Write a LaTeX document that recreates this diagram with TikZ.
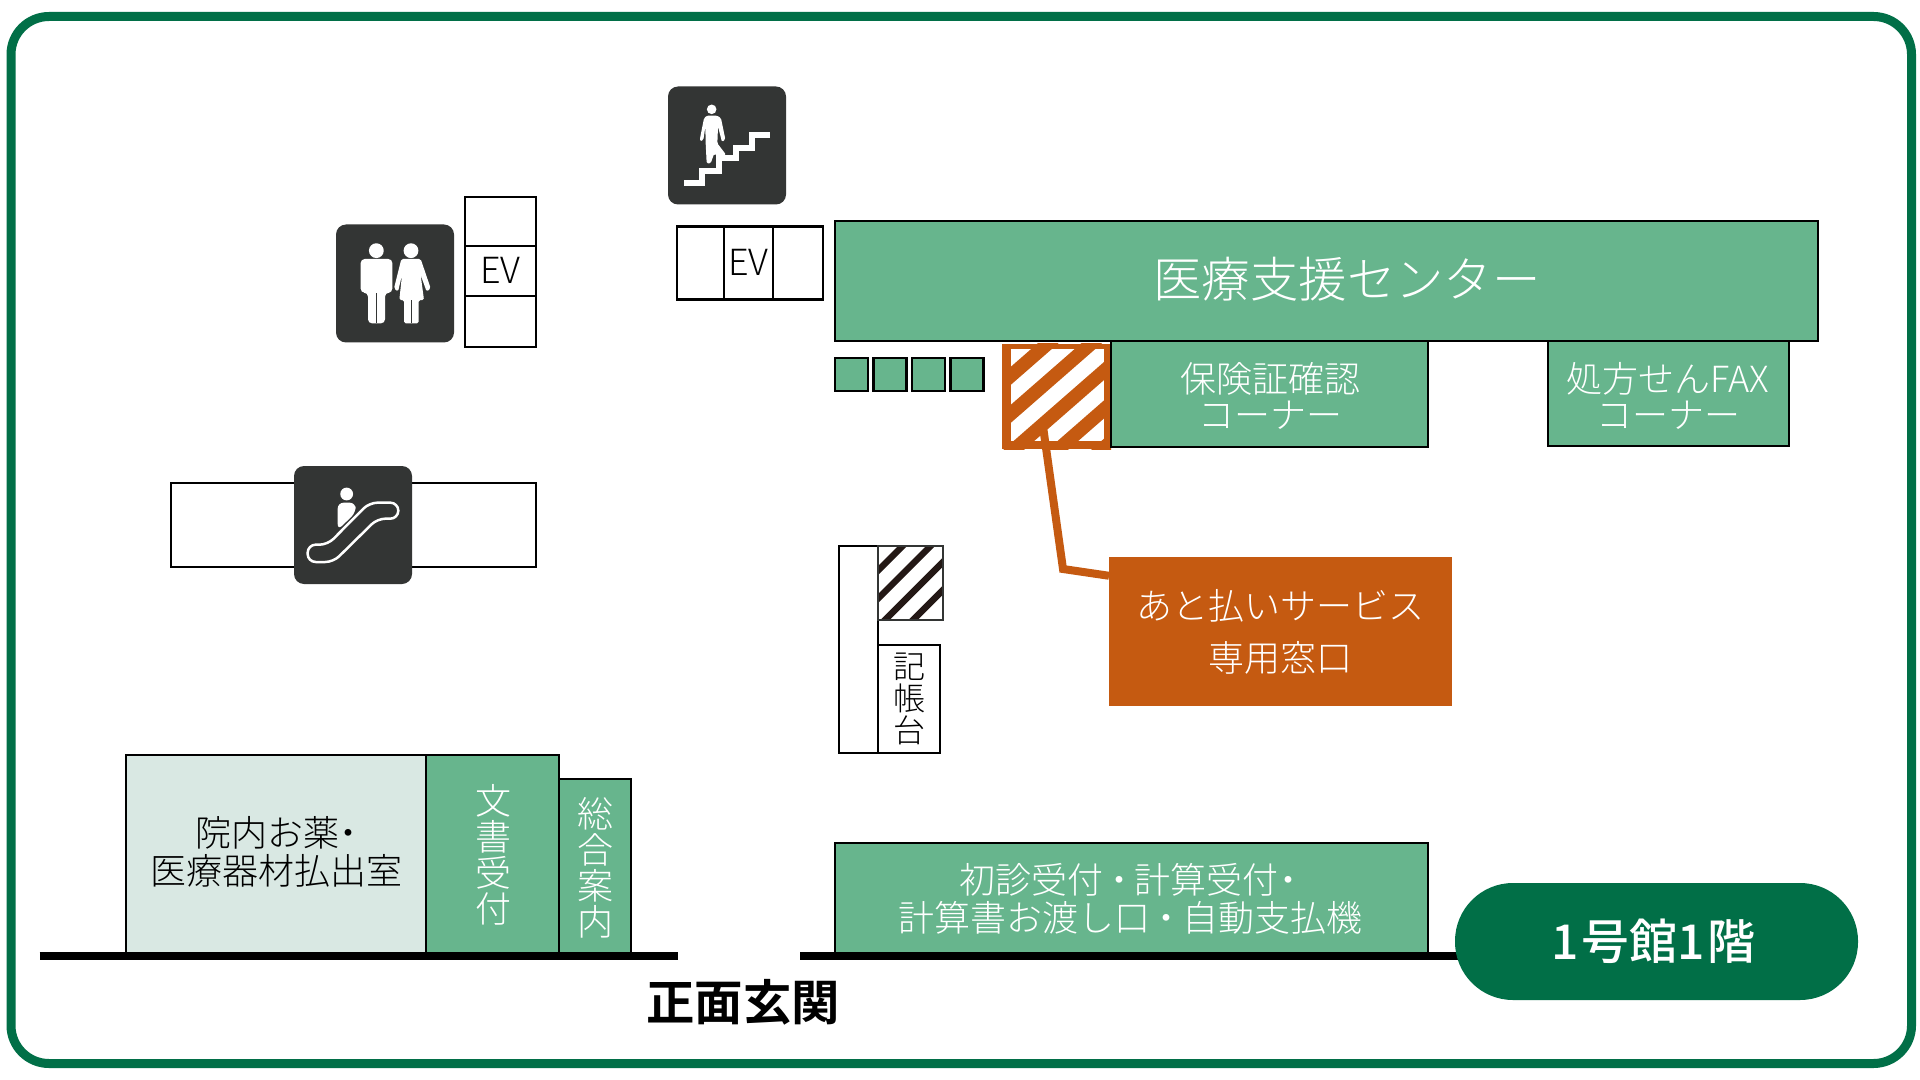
\documentclass[tikz,border=0pt]{standalone}
\usepackage{fontspec}
\newfontfamily\jplight{Noto Sans CJK JP Light}
\newfontfamily\jpmedium{Noto Sans CJK JP Medium}
\newfontfamily\jpbold{Noto Sans CJK JP Bold}
\usetikzlibrary{calc}

\begin{document}
\begin{tikzpicture}[x=0.5pt,y=-0.5pt,
    wh/.style 2 args={minimum width=#1*0.5pt,minimum height=#2*0.5pt}]
  % Local definitions
  \def\jptext#1{\jplight\fontsize{18}{#1}\selectfont}

  % Colors
  \definecolor{framegreen}{HTML}{016F47}
  \definecolor{roomgreen}{HTML}{67B58D}
  \definecolor{roompale}{HTML}{D9E8E3}
  \definecolor{lateorange}{HTML}{C55A11}
  \definecolor{icondark}{HTML}{333534}
  \definecolor{stripeblack}{HTML}{231815}

  % Styles
  \tikzstyle{room}=[draw=black,line width=1.2pt,inner sep=0pt,outer sep=0pt,align=center]
  \tikzstyle{green room}=[room,fill=roomgreen,text=white]
  \tikzstyle{white room}=[room,fill=white]
  \tikzstyle{room text}=[text=white,align=center,inner sep=0pt]
  \tikzstyle{icon box}=[fill=icondark,rounded corners=5pt,inner sep=0pt,wh={118}{118}]
  \tikzstyle{ground}=[line width=4.25pt,black]
  \tikzstyle{leader}=[line width=4pt,lateorange,miter limit=10]
  \tikzstyle{glyph}=[fill=white,draw=none]

  \useasboundingbox (0,0) rectangle (1920,1080);
  \fill[white] (0,0) rectangle (1920,1080);

  % Frame
  \draw[framegreen,line width=4.5pt,rounded corners=19pt] (11,16.5) rectangle (1911.5,1063.5);

  % Ground lines
  \coordinate (groundA) at (39.5,956);
  \coordinate (groundB) at (678,956);
  \coordinate (groundC) at (800,956);
  \coordinate (groundD) at (1470,956);
  \draw[ground] (groundA) -- (groundB);
  \draw[ground] (groundC) -- (groundD);

  % Lifts
  \node[white room,wh={47}{73}] (evleft) at (700.5,263) {};
  \node[white room,wh={49}{73},font=\jptext{18}] (evmid) at (748.5,263) {\raisebox{0.5pt}{EV}};
  \node[white room,wh={50}{73}] (evright) at (798,263) {};
  \node[white room,wh={71}{49}] (evtop) at (500.5,221.5) {};
  \node[white room,wh={71}{50},font=\jptext{18}] (evcentre) at (500.5,271) {\raisebox{0.5pt}{EV}};
  \node[white room,wh={71}{51}] (evbottom) at (500.5,321.5) {};

  % Orange hatched window
  \node[fill=white,inner sep=0pt,outer sep=0pt,wh={109}{105}] (latewin) at (1056.5,396.5) {};
  \begin{scope}
    \clip (1002,344) rectangle (1111,449);
    \foreach \ya in {377.7,415.7,454.3,492.7,531}
      \draw[lateorange,line width=6.8pt] (980,\ya+25) -- (1130,\ya-106);
    \fill[lateorange] (1002,344) rectangle (1011,449);
    \fill[lateorange] (1104,344) rectangle (1111,449);
    \fill[lateorange] (1002,344) rectangle (1111,349);
    \fill[lateorange] (1002,441) rectangle (1111,449);
  \end{scope}

  % Rooms along the top
  \node[green room,wh={983}{120}] (support) at (1326.5,281) {};
  \node[room text,font=\jplight\fontsize{24.2}{24}\selectfont] (supporttext) at (1347,279) {医療支援センター};
  \node[green room,wh={317}{106}] (insurance) at (1269.5,394) {};
  \node[room text,font=\jptext{17.75}] (insurancetext) at (1270,396) {保険証確認\\コーナー};
  \node[green room,wh={241}{105}] (fax) at (1668.5,393.5) {};
  \node[room text,font=\jptext{17.75}] (faxtext) at (1668,396) {処方せんFAX\\コーナー};
  \foreach \i/\cx in {1/851.5,2/890,3/928.5,4/967}
    \node[green room,wh={33}{33}] (desk\i) at (\cx,374.5) {};

  % Late payment box
  \node[fill=lateorange,text=white,inner sep=0pt,outer sep=0pt,wh={343}{149},align=center,font=\jptext{26}] (latebox) at (1280.5,631.5) {あと払いサービス\\専用窓口};
  \coordinate (leadtop) at (1043.5,430);
  \coordinate (leadelbow) at (1063,569);
  \draw[leader] (leadtop) -- (leadelbow) -- (latebox.162.7);

  % Writing desk
  \node[white room,wh={39}{207}] (deskwall) at (858.5,649.5) {};
  \node[white room,wh={62}{108},font=\jplight\fontsize{16}{16}\selectfont] (writing) at (909,699) {記\\帳\\台};
  \node[fill=white,inner sep=0pt,outer sep=0pt,wh={65}{74}] (blackwin) at (910.5,583) {};
  \begin{scope}
    \clip (878,546) rectangle (943,620);
    \foreach \ya in {570.7,598.7,627,655}
      \draw[stripeblack,line width=3.2pt] (870,\ya+8) -- (950,\ya-72);
  \end{scope}
  \draw[icondark,line width=1pt] (blackwin.north west) rectangle (blackwin.south east);

  % Rooms at the entrance
  \node[room,fill=roompale,wh={300}{198}] (pharmacy) at (276,854) {};
  \node[font=\jptext{19.25},align=center,inner sep=0pt] (pharmacytext) at (276.5,852) {院内お薬\kern-4.5pt・\kern-4.5pt\\医療器材払出室};
  \node[green room,wh={133}{198}] (documents) at (492.5,854) {};
  \node[room text,font=\jptext{18}] (documentstext) at (493.5,855) {文\\書\\受\\付};
  \node[green room,wh={72}{174}] (information) at (595,866) {};
  \node[room text,font=\jptext{18}] (informationtext) at (595,868) {総\\合\\案\\内};
  \node[green room,wh={593}{110}] (reception) at (1131.5,898) {};
  \node[room text,font=\jptext{19}] (receptiontext) at (1130,899) {初診受付\kern-1.25pt・\kern-1.25pt計算受付\kern-4.3pt・\kern-3pt\\計算書お渡し口\kern-1pt・\kern-1pt自動支払機};

  % Entrance and floor name
  \node[inner sep=0pt,font=\jpbold\fontsize{24.2}{24}\selectfont] (entrance) at (743,1002) {正面玄関};
  \node[fill=framegreen,text=white,rounded corners=29pt,inner sep=0pt,wh={403}{117},font=\jpmedium\fontsize{24}{24}\selectfont] (floorname) at (1656.5,941.5) {1\kern1.25pt号館1\kern1.25pt階\kern3pt};

  % Stairs icon
  \node[icon box] (stairicon) at (727,145.5) {};
  \begin{scope}[shift={(660,80)},x=0.16667pt,y=-0.16667pt]
    \fill[white] (155,88) circle (2.4pt);
    \draw[white,line width=2.9pt] (73,309) -- (125,309) -- (125,272) -- (177,272) -- (177,235) -- (227,235) -- (227,203) -- (277,203) -- (277,166) -- (329,166);
    \path[glyph,rounded corners=0.7pt] (140,107) -- (172,107) -- (183,115) -- (196,178) -- (186,186) -- (174,140) -- (172,190) -- (198,224) -- (190,232) -- (162,222) -- (152,250) -- (140,250) -- (137,190) -- (136,140) -- (130,180) -- (120,184) -- (120,175) -- (132,115) -- cycle;
  \end{scope}

  % Toilet icon
  \node[icon box] (toileticon) at (395,283.5) {};
  \begin{scope}[shift={(330,220)},x=0.16667pt,y=-0.16667pt]
    \fill[white] (139,92) circle (3.7pt);
    \fill[white] (243,92) circle (3.7pt);
    \path[glyph,rounded corners=2pt] (92,218) -- (92,117) -- (187,117) -- (187,218) -- (169,218) -- (165,218) -- (165,310) -- (114,310) -- (114,218) -- cycle;
    \draw[icondark,line width=0.2pt] (139,220) -- (139,310);
    \draw[white,line width=0.2pt] (111,160) -- (111,218) (168,160) -- (168,218);
    \path[glyph,rounded corners=0.8pt] (214,117) -- (272,117) -- (302,205) -- (290,215) -- (272,165) -- (282,240) -- (266,240) -- (266,310) -- (222,310) -- (222,240) -- (208,240) -- (216,165) -- (204,215) -- (192,205) -- cycle;
    \draw[icondark,line width=0.2pt] (243,240) -- (243,310);
  \end{scope}

  % Escalator
  \node[white room,wh={365}{84}] (escalator) at (353.5,525) {};
  \node[icon box] (escalatoricon) at (353,525) {};
  \begin{scope}[shift={(290,460)},x=0.16667pt,y=-0.16667pt]
    \fill[white] (170,102) circle (3.2pt);
    \path[glyph,rounded corners=3pt] (143,210) -- (143,128) -- (197,128) -- (197,158) -- cycle;
    \draw[white,line width=1.25pt,rounded corners=4pt] (53,254) -- (113,254) -- (238,128) -- (325,128) -- (325,176) -- (262,176) -- (130,306) -- (53,306) -- cycle;
  \end{scope}
\end{tikzpicture}
\end{document}
